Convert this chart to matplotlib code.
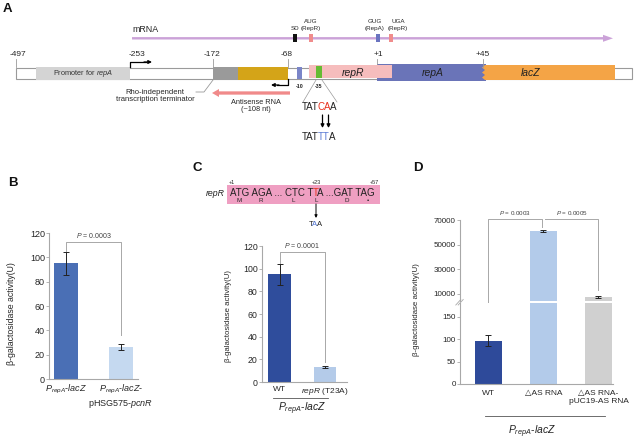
import matplotlib
matplotlib.use('Agg')
import matplotlib.pyplot as plt
from matplotlib.patches import Rectangle, Polygon, FancyArrow
import numpy as np

plt.rcParams['font.family'] = ['Liberation Sans', 'DejaVu Sans']
plt.rcParams['mathtext.fontset'] = 'custom'
plt.rcParams['mathtext.rm'] = 'Liberation Sans'
plt.rcParams['mathtext.it'] = 'Liberation Sans:italic'
plt.rcParams['mathtext.bf'] = 'Liberation Sans:bold'

# ---------------- data ----------------
pos_labels = ['-497', '-253', '-172', '-68', '+1', '+45']
mrna_marks = ['SD', 'AUG\n(RepR)', 'GUG\n(RepA)', 'UGA\n(RepR)']
gene_names = ['repR', 'repA', 'lacZ']
box_labels = ['-10', '-35']
seq_wt = ['TAT', 'CA', 'A']
seq_mut = ['TAT', 'TT', 'A']
codon_parts = ['ATG AGA ... CTC T', 'T', 'A ...GAT TAG']
codon_pos = ['+1', '+23', '+57']
amino_acids = ['M', 'R', 'L', 'L', 'D', '\u2022']
mut_codon = ['T', 'A', 'A']

b_labels = [r'$P_{repA}$-$lacZ$', r'$P_{repA}$-$lacZ$-' + '\n' + r'pHSG575-$pcnR$']
b_values = [95, 26]
b_errors = [9.5, 2.5]
b_pvalue = '0.0003'

c_labels = ['WT', r'$repR$ (T23A)']
c_values = [95, 13]
c_errors = [9.5, 0.7]
c_pvalue = '0.0001'

d_labels = ['WT', '\u25b3AS RNA', '\u25b3AS RNA-\npUC19-AS RNA']
d_values = [97, 61000, 7500]
d_errors = [13, 1000, 800]
d_pvalues = ['0.0003', '0.0005']
d_upper_ticks = [10000, 30000, 50000, 70000]
d_lower_ticks = [0, 50, 100, 150]

group_label = r'$P_{repA}$-$lacZ$'
ylab = '\u03b2-galactosidase activity(U)'

# ---------------- figure ----------------
W, H = 641, 440
fig = plt.figure(figsize=(W / 100, H / 100), dpi=100)
GRAY = '#a8a8a8'
TXT = '#262626'
ERR = dict(ecolor='#222222', elinewidth=0.7, capsize=2.5, capthick=0.7)


def px_axes(x0, x1, y0, y1):
    return fig.add_axes([x0 / W, 1 - y1 / H, (x1 - x0) / W, (y1 - y0) / H])


def style(ax, fs, bottom=True):
    for s in ['top', 'right']:
        ax.spines[s].set_visible(False)
    for s in ['left', 'bottom']:
        ax.spines[s].set_color(GRAY)
        ax.spines[s].set_linewidth(0.8)
    if not bottom:
        ax.spines['bottom'].set_visible(False)
    ax.tick_params(axis='y', length=2, width=0.6, color=GRAY, pad=1,
                   labelsize=fs, labelcolor=TXT)
    ax.tick_params(axis='x', length=0, labelcolor=TXT)


def bracket(ax, x0, x1, top, y0, y1, p, fs):
    ax.plot([x0, x0, x1, x1], [y0, top, top, y1], color=GRAY, lw=0.7,
            clip_on=False)
    ax.annotate(f'$P$ = {p}', xy=((x0 + x1) / 2, top), xytext=(0, 1.2),
                textcoords='offset points', ha='center', va='bottom',
                fontsize=fs, color='#404040', annotation_clip=False)


# ---- panel B ----
axb = px_axes(49, 138, 233, 379)
xb = np.arange(len(b_values))
axb.bar(xb, b_values, width=0.42, color=['#4a6fb5', '#c5d9f0'],
        yerr=b_errors, error_kw=ERR)
axb.set_xlim(-0.31, 1.31)
axb.set_ylim(0, 120)
axb.set_yticks(range(0, 121, 20))
axb.set_xticks(xb)
axb.set_xticklabels(b_labels, fontsize=6.5)
style(axb, 6.5)
axb.tick_params(axis='x', pad=3)
bracket(axb, 0, 1, 112.6, b_values[0] + b_errors[0] + 0.5, 36, b_pvalue, 5)

# ---- panel C ----
axc = px_axes(262, 347, 246, 382)
xc = np.arange(len(c_values))
axc.bar(xc, c_values, width=0.49, color=['#2f4d9c', '#b4cbe9'],
        yerr=c_errors, error_kw=ERR)
axc.set_xlim(-0.385, 1.48)
axc.set_ylim(0, 120)
axc.set_yticks(range(0, 121, 20))
axc.set_xticks(xc)
axc.set_xticklabels(c_labels, fontsize=6)
style(axc, 6.3)
axc.tick_params(axis='x', pad=3)
bracket(axc, 0, 1, 114.7, c_values[0] + c_errors[0] + 0.5, 18, c_pvalue, 5)

# ---- panel D (broken axis) ----
axu = px_axes(460, 613, 220, 301)
axl = px_axes(460, 613, 303, 384)
xd = np.arange(len(d_values))
dcols = ['#2e4a9a', '#b3cbea', '#d0d0d0']
for ax in (axu, axl):
    ax.bar(xd, d_values, width=0.49, color=dcols, yerr=d_errors, error_kw=ERR)
    ax.set_xlim(-0.518, 2.264)
axu.set_ylim(4300, 70000)
axl.set_ylim(0, 181)
axu.set_yticks(d_upper_ticks, labels=[str(t) for t in d_upper_ticks])
axl.set_yticks(d_lower_ticks, labels=[str(t) for t in d_lower_ticks])
axu.set_xticks([])
axl.set_xticks(xd)
axl.set_xticklabels(d_labels, fontsize=6)
style(axu, 5.8, bottom=False)
style(axl, 5.8)
axl.tick_params(axis='x', pad=4)


def to_up(y_low):
    disp = axl.transData.transform((0, y_low))
    return axu.transData.inverted().transform(disp)[1]


top_d = 70800
bracket(axu, 0, 0.975, top_d, to_up(d_values[0] + d_errors[0] + 11), 64300,
        d_pvalues[0], 4.5)
bracket(axu, 1.025, 2, top_d, top_d, 13200, d_pvalues[1], 4.5)

# ---------------- overlay (panel A + annotations) ----------------
ov = fig.add_axes([0, 0, 1, 1])
ov.set_xlim(0, W)
ov.set_ylim(H, 0)
ov.axis('off')


def chain_text(x, y, parts, colors, fs, **kw):
    # pieces of one word in different colours, set side by side
    t = ov.text(x, y, parts[0], color=colors[0], ha='left', va='center',
                fontsize=fs, **kw)
    for s, c in zip(parts[1:], colors[1:]):
        t = ov.annotate(s, xy=(1, 0), xycoords=t, xytext=(-0.1 * fs, 0),
                        textcoords='offset points', va='bottom', ha='left',
                        color=c, fontsize=fs, **kw)


def small_arrow(x0, y0, x1, y1, lw=0.9, ms=5):
    ov.annotate('', xy=(x1, y1), xytext=(x0, y0),
                arrowprops=dict(arrowstyle='-|>', color='k', lw=lw,
                                mutation_scale=ms, shrinkA=0, shrinkB=0))


# panel letters
for lab, (x, y) in zip('ABCD', [(7, 9), (13, 183), (197, 168), (418, 168)]):
    ov.text(x, y, lab, fontsize=9.5, fontweight='bold', ha='center',
            va='center', color='#111111')

# mRNA arrow
ov.add_patch(FancyArrow(132, 38.3, 481, 0, width=2.4, head_width=7,
                        head_length=10, length_includes_head=True,
                        color='#cba2d8', ec='none'))
ov.text(132, 29, 'mRNA', fontsize=6.4, ha='left', va='center', color=TXT)
mark_x = [293, 309, 376, 389]
mark_c = ['#111111', '#f08c8c', '#6a74c0', '#f08c8c']
mark_lx = [295, 311, 375, 398]
for lab, x, c, lx in zip(mrna_marks, mark_x, mark_c, mark_lx):
    ov.add_patch(Rectangle((x, 34.5), 4, 7.5, fc=c, ec='none'))
    yy = 29 if '\n' not in lab else 25
    ov.text(lx, yy, lab, fontsize=4.5, ha='center', va='center',
            linespacing=1.35, color=TXT)

# main construct line
ov.add_patch(Rectangle((16, 68), 616, 11, fc='white', ec='#9a9a9a', lw=0.8))
ov.add_patch(Rectangle((36, 67), 94, 13, fc='#d4d4d4', ec='none'))
ov.text(83, 73.5, r'Promoter for $repA$', fontsize=5.3, ha='center',
        va='center', color='#333333')
ov.add_patch(Rectangle((213, 67), 25, 13, fc='#9a9a9a', ec='none'))
ov.add_patch(Rectangle((238, 67), 50, 13, fc='#d4a418', ec='none'))
ov.add_patch(Rectangle((297, 67.5), 5, 12, fc='#7a85c8', ec='none'))
ov.add_patch(Rectangle((377, 64), 109, 17, fc='#6a74b8', ec='none'))
ov.add_patch(Rectangle((309, 65), 83, 13.3, fc='#f6bdbd', ec='none'))
ov.add_patch(Rectangle((316, 66.5), 6, 11.5, fc='#66bb33', ec='none'))
zig_y = np.linspace(80, 65, 7)
zig = [(485 if i % 2 == 0 else 482, y) for i, y in enumerate(zig_y)]
ov.add_patch(Polygon([(485, 65), (615, 65), (615, 80)] + zig, closed=True,
                     fc='#f4a446', ec='none'))
for name, x in zip(gene_names, [353, 433, 531]):
    ov.text(x, 73, name, fontsize=7.5, style='italic', ha='center',
            va='center', color='#222222')

# position labels and ticks
pos_x = [18, 137, 212, 287, 378, 483]
tick_x = [16, None, 213, 288, 377, 483]
for lab, x, tx in zip(pos_labels, pos_x, tick_x):
    ov.text(x, 54, lab, fontsize=6, ha='center', va='center', color=TXT)
    if tx is not None:
        ov.plot([tx, tx], [59, 67.5 if tx != 377 else 64], color='#9a9a9a',
                lw=0.6)

# promoter bent arrows
ov.plot([130, 130, 146], [67, 62, 62], color='k', lw=0.9)
small_arrow(144, 62, 152, 62)
ov.plot([288, 288, 277], [79, 85, 85], color='k', lw=0.9)
small_arrow(279, 85, 271, 85)
for lab, x in zip(box_labels, [300, 319]):
    ov.text(x, 86, lab, fontsize=3.8, fontweight='bold', ha='center',
            va='center', color='#222222')

# terminator label
ov.text(155, 96, 'Rho-independent\ntranscription terminator', fontsize=5.5,
        ha='center', va='center', linespacing=1.15, color=TXT)
ov.plot([196, 204, 213], [92, 92, 80], color='#9a9a9a', lw=0.6)

# antisense RNA
ov.add_patch(FancyArrow(290, 93, -78, 0, width=3.3, head_width=8,
                        head_length=7, length_includes_head=True,
                        color='#f08a8a', ec='none'))
ov.text(256, 106, 'Antisense RNA\n(~108 nt)', fontsize=5.3, ha='center',
        va='center', linespacing=1.15, color=TXT)

# -35 box mutation
ov.plot([316, 303], [80, 102], color='#9a9a9a', lw=0.5)
ov.plot([322, 337], [80, 102], color='#9a9a9a', lw=0.5)
chain_text(302, 107.5, seq_wt, ['#222222', '#e8321e', '#222222'], 7)
small_arrow(322.5, 115, 322.5, 128, lw=0.9, ms=5)
small_arrow(328.5, 115, 328.5, 128, lw=0.9, ms=5)
chain_text(302, 137.5, seq_mut, ['#222222', '#5b7bd5', '#222222'], 7)

# panel C sequence
ov.add_patch(Rectangle((227, 185), 153, 19, fc='#ef9fc2', ec='none'))
ov.text(225, 193, 'repR', fontsize=6.3, style='italic', ha='right',
        va='center', color='#222222')
chain_text(230, 193, codon_parts, ['#222222', '#e8321e', '#222222'], 7)
for lab, x in zip(codon_pos, [232, 316, 374]):
    ov.text(x, 182.5, lab, fontsize=4, ha='center', va='center', color=TXT)
for aa, x in zip(amino_acids, [239, 261, 293, 316, 347, 368]):
    ov.text(x, 200.5, aa, fontsize=4.5, ha='center', va='center', color=TXT)
small_arrow(316, 204, 316, 218, lw=0.7, ms=4)
chain_text(308.5, 225, mut_codon, ['#222222', '#4a6fd0', '#222222'], 5.5)

# y labels
ov.text(12, 314, ylab, rotation=90, fontsize=6.3, ha='center', va='center',
        color=TXT)
ov.text(228, 316, ylab, rotation=90, fontsize=5.6, ha='center', va='center',
        color=TXT)
ov.text(417, 310, ylab, rotation=90, fontsize=5.7, ha='center', va='center',
        color=TXT)

# group labels C and D
ov.plot([273, 328], [398, 398], color='#555555', lw=0.6)
ov.text(302, 409, group_label, fontsize=7.5, ha='center', va='center',
        color='#222222')
ov.plot([485, 605], [416, 416], color='#555555', lw=0.6)
ov.text(532, 432, group_label, fontsize=7.5, ha='center', va='center',
        color='#222222')

# axis break marks
for dx in (-1.2, 1.2):
    ov.plot([457 + dx, 462 + dx], [305, 299.5], color=GRAY, lw=0.6)

fig.savefig('out.png', dpi=100)
